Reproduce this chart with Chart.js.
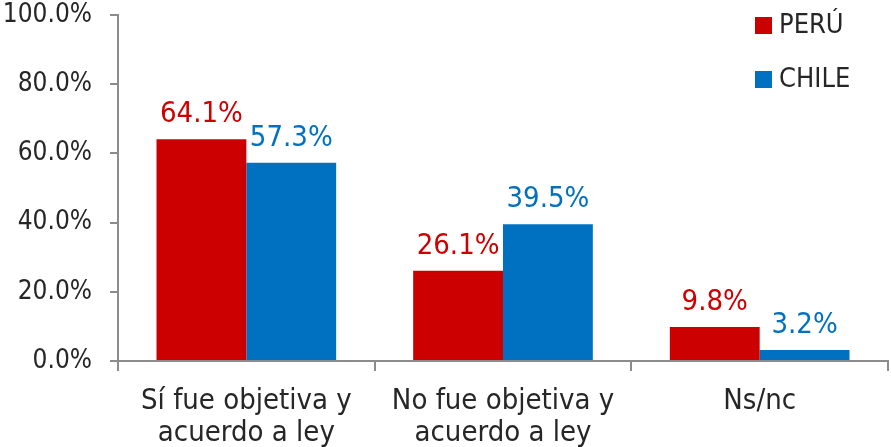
<!DOCTYPE html>
<html>
<head>
<meta charset="utf-8">
<script src="https://cdn.jsdelivr.net/npm/chart.js@4/dist/chart.umd.min.js"></script>
<style>
  html, body { margin: 0; padding: 0; background: #fff; }
  #wrap { width: 891px; height: 447px; }
</style>
</head>
<body>
<div id="wrap"><canvas id="chart"></canvas></div>
<script>
const categories = [["Sí fue objetiva y", "acuerdo a ley"], ["No fue objetiva y", "acuerdo a ley"], "Ns/nc"];
const peru = [64.1, 26.1, 9.8];
const chile = [57.3, 39.5, 3.2];
const seriesNames = ["PERÚ", "CHILE"];
const seriesColors = ["#CC0000", "#0070C0"];

const FONT = "'DejaVu Sans Condensed', 'DejaVu Sans', sans-serif";
const TEXT = "#262626";

// value labels over the bars, in the series colour
const barLabels = {
    id: "barLabels",
    afterDatasetsDraw(chart) {
        const ctx = chart.ctx;
        ctx.save();
        ctx.font = "29px " + FONT;
        ctx.textAlign = "center";
        ctx.textBaseline = "alphabetic";
        chart.data.datasets.forEach((ds, i) => {
            ctx.fillStyle = ds.backgroundColor;
            chart.getDatasetMeta(i).data.forEach((bar, j) => {
                ctx.fillText(ds.data[j].toFixed(1) + "%", bar.x, bar.y - 17);
            });
        });
        ctx.restore();
    }
};

// vertical legend in the top right corner
const sideLegend = {
    id: "sideLegend",
    afterDraw(chart) {
        const ctx = chart.ctx;
        ctx.save();
        ctx.font = "27px " + FONT;
        ctx.textBaseline = "middle";
        ctx.textAlign = "left";
        chart.data.datasets.forEach((ds, i) => {
            const y = 25 + i * 54;
            ctx.fillStyle = ds.backgroundColor;
            ctx.fillRect(755, y - 8, 17, 17);
            ctx.fillStyle = TEXT;
            ctx.fillText(ds.label, 779, y + 1);
        });
        ctx.restore();
    }
};

new Chart(document.getElementById("chart"), {
    type: "bar",
    data: {
        labels: categories,
        datasets: [
            { label: seriesNames[0], data: peru, backgroundColor: seriesColors[0] },
            { label: seriesNames[1], data: chile, backgroundColor: seriesColors[1] }
        ]
    },
    options: {
        responsive: true,
        maintainAspectRatio: false,
        animation: false,
        layout: { padding: { top: 15, right: 3, left: 0, bottom: 0 } },
        datasets: { bar: { barPercentage: 1, categoryPercentage: 0.7 } },
        plugins: {
            legend: { display: false },
            tooltip: { enabled: false }
        },
        scales: {
            x: {
                afterFit: s => { s.height = 86; },
                border: { color: "#8c8c8c", width: 2 },
                grid: { drawOnChartArea: false, drawTicks: true, tickLength: 10, color: "#8c8c8c", lineWidth: 2 },
                ticks: { color: TEXT, font: { family: FONT, size: 29, lineHeight: 1.1 }, padding: 15, maxRotation: 0, autoSkip: false }
            },
            y: {
                min: 0,
                max: 100,
                afterFit: s => { s.width = 118; s.paddingTop = 0; s.paddingBottom = 0; },
                border: { color: "#8c8c8c", width: 2 },
                grid: { drawOnChartArea: false, drawTicks: true, tickLength: 8, color: "#8c8c8c", lineWidth: 2 },
                ticks: {
                    stepSize: 20,
                    color: TEXT,
                    font: { family: FONT, size: 26 },
                    padding: 18,
                    callback: v => v.toFixed(1) + "%"
                }
            }
        }
    },
    plugins: [barLabels, sideLegend]
});
</script>
</body>
</html>
